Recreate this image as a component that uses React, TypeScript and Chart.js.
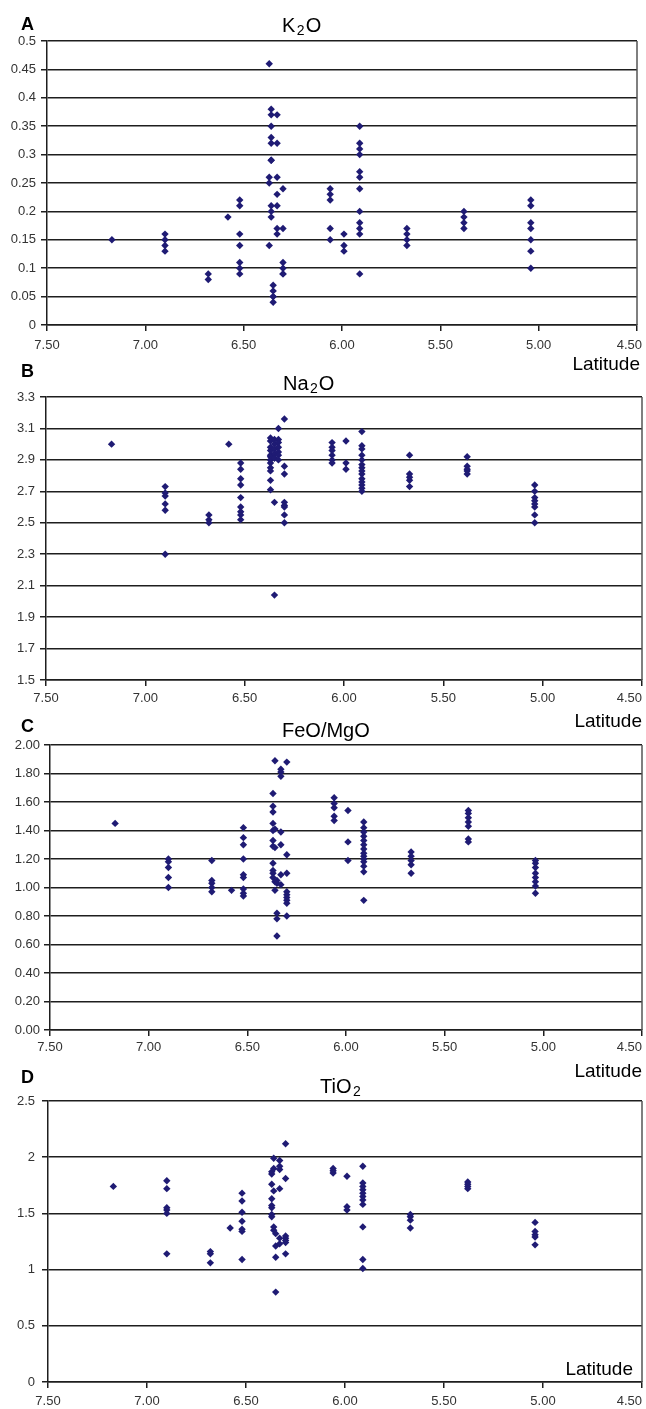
import React, { useEffect, useRef } from "react";
import { Chart, registerables } from "chart.js";

Chart.register(...registerables);

// Sampling latitudes (x groups), shared by all four panels
const LATITUDES = [7.17, 6.9, 6.68, 6.58, 6.52, 6.37, 6.36, 6.35, 6.33, 6.3, 6.06, 5.99, 5.91, 5.67, 5.38, 5.04];

// Values per latitude group (same order as LATITUDES)
const K2O: number[][] = [
  [0.15],
  [0.16, 0.15, 0.14, 0.13],
  [0.09, 0.08],
  [0.19],
  [0.22, 0.21, 0.16, 0.14, 0.11, 0.1, 0.09],
  [0.46, 0.26, 0.25, 0.14],
  [0.38, 0.37, 0.35, 0.33, 0.32, 0.29, 0.29, 0.21, 0.2, 0.19],
  [0.07, 0.06, 0.05, 0.05, 0.04],
  [0.37, 0.32, 0.26, 0.23, 0.21, 0.17, 0.16],
  [0.24, 0.17, 0.11, 0.1, 0.09, 0.09],
  [0.24, 0.23, 0.22, 0.17, 0.15],
  [0.16, 0.14, 0.13],
  [0.35, 0.32, 0.31, 0.3, 0.27, 0.26, 0.24, 0.2, 0.18, 0.17, 0.16, 0.09],
  [0.17, 0.16, 0.15, 0.14],
  [0.2, 0.19, 0.18, 0.17],
  [0.22, 0.21, 0.18, 0.17, 0.15, 0.13, 0.1],
];

const NA2O: number[][] = [
  [3.0],
  [2.73, 2.69, 2.67, 2.62, 2.58, 2.3],
  [2.55, 2.52, 2.5],
  [3.0],
  [2.88, 2.84, 2.78, 2.74, 2.66, 2.6, 2.57, 2.55, 2.52],
  [3.04, 3.02, 2.98, 2.96, 2.93, 2.92, 2.9, 2.88, 2.85, 2.83, 2.77, 2.71],
  [],
  [3.03, 3.0, 2.97, 2.94, 2.91, 2.63, 2.04],
  [3.1, 3.03, 3.01, 2.98, 2.95, 2.93, 2.9],
  [3.16, 2.86, 2.81, 2.63, 2.61, 2.6, 2.55, 2.5],
  [3.01, 2.98, 2.96, 2.93, 2.9, 2.88],
  [3.02, 2.88, 2.84],
  [3.08, 2.99, 2.97, 2.93, 2.9, 2.87, 2.85, 2.83, 2.81, 2.78, 2.76, 2.74, 2.72, 2.7],
  [2.93, 2.81, 2.79, 2.77, 2.73],
  [2.92, 2.86, 2.84, 2.83, 2.81],
  [2.74, 2.7, 2.66, 2.64, 2.62, 2.6, 2.55, 2.5],
];

const FEO_MGO: number[][] = [
  [1.45],
  [1.2, 1.18, 1.14, 1.07, 1.0],
  [1.19, 1.05, 1.03, 1.0, 0.97],
  [0.98],
  [1.42, 1.35, 1.3, 1.2, 1.09, 1.07, 0.99, 0.96, 0.94],
  [1.66, 1.57, 1.53, 1.45, 1.4, 1.33, 1.29, 1.17, 1.12, 1.1, 1.07],
  [1.89, 1.41, 1.28, 1.04, 0.98],
  [1.05, 1.03, 0.82, 0.78, 0.66],
  [1.83, 1.81, 1.78, 1.39, 1.3, 1.09, 1.02],
  [1.88, 1.23, 1.1, 0.97, 0.95, 0.93, 0.91, 0.89, 0.8],
  [1.63, 1.59, 1.56, 1.5, 1.47],
  [1.54, 1.32, 1.19],
  [1.46, 1.42, 1.39, 1.36, 1.33, 1.3, 1.27, 1.24, 1.22, 1.2, 1.18, 1.15, 1.11, 0.91],
  [1.25, 1.22, 1.19, 1.16, 1.1],
  [1.54, 1.52, 1.49, 1.46, 1.43, 1.34, 1.32],
  [1.19, 1.17, 1.14, 1.1, 1.07, 1.04, 1.01, 0.96],
];

const TIO2: number[][] = [
  [1.74],
  [1.79, 1.72, 1.55, 1.53, 1.5, 1.14],
  [1.16, 1.14, 1.06],
  [1.37],
  [1.68, 1.61, 1.51, 1.43, 1.36, 1.34, 1.09],
  [1.87, 1.85, 1.76, 1.63, 1.57, 1.55, 1.49, 1.47],
  [1.99, 1.9, 1.7, 1.38, 1.35],
  [1.32, 1.21, 1.11, 0.8],
  [1.97, 1.92, 1.89, 1.72, 1.28, 1.23],
  [2.12, 1.81, 1.3, 1.28, 1.26, 1.24, 1.14],
  [1.9, 1.88, 1.86],
  [1.83, 1.56, 1.53],
  [1.92, 1.77, 1.74, 1.71, 1.68, 1.65, 1.62, 1.58, 1.38, 1.09, 1.01],
  [1.49, 1.47, 1.44, 1.37],
  [1.78, 1.76, 1.74, 1.72],
  [1.42, 1.34, 1.31, 1.29, 1.22],
];

// Tick values
const X_TICKS = [7.5, 7.0, 6.5, 6.0, 5.5, 5.0, 4.5];
const K2O_TICKS = [0, 0.05, 0.1, 0.15, 0.2, 0.25, 0.3, 0.35, 0.4, 0.45, 0.5];
const NA2O_TICKS = [1.5, 1.7, 1.9, 2.1, 2.3, 2.5, 2.7, 2.9, 3.1, 3.3];
const FEO_MGO_TICKS = [0, 0.2, 0.4, 0.6, 0.8, 1.0, 1.2, 1.4, 1.6, 1.8, 2.0];
const TIO2_TICKS = [0, 0.5, 1, 1.5, 2, 2.5];

const FONT = '"Liberation Sans", Arial, Helvetica, sans-serif';
const MARKER = "#1f1b74";
const LINE = "#1e1e1e";
const W = 646;

type Spec = {
  letter: string;
  letterBase: number;
  title: [string, string, string];
  titleX: number;
  titleBase: number;
  canvasTop: number;
  height: number;
  area: { l: number; r: number; t: number; b: number };
  values: number[][];
  yTicks: number[];
  yFmt: (v: number) => string;
  yPad: number;
  xPad: number;
  latX: number;
  latBase: number;
};

const SPECS: Spec[] = [
  {
    letter: "A", letterBase: 30, title: ["K", "2", "O"], titleX: 282, titleBase: 32,
    canvasTop: 0, height: 385, area: { l: 47, r: 637, t: 41, b: 325 },
    values: K2O, yTicks: K2O_TICKS, yFmt: (v) => String(+v.toFixed(2)), yPad: 5, xPad: 7,
    latX: 640, latBase: 370,
  },
  {
    letter: "B", letterBase: 377, title: ["Na", "2", "O"], titleX: 283, titleBase: 390,
    canvasTop: 355, height: 380, area: { l: 46, r: 642, t: 397, b: 680 },
    values: NA2O, yTicks: NA2O_TICKS, yFmt: (v) => v.toFixed(1), yPad: 5, xPad: 5,
    latX: 642, latBase: 727,
  },
  {
    letter: "C", letterBase: 732, title: ["FeO/MgO", "", ""], titleX: 282, titleBase: 737,
    canvasTop: 705, height: 380, area: { l: 50, r: 642, t: 745, b: 1030 },
    values: FEO_MGO, yTicks: FEO_MGO_TICKS, yFmt: (v) => v.toFixed(2), yPad: 4, xPad: 4,
    latX: 642, latBase: 1077,
  },
  {
    letter: "D", letterBase: 1083, title: ["TiO", "2", ""], titleX: 320, titleBase: 1093,
    canvasTop: 1060, height: 349, area: { l: 48, r: 642, t: 1101, b: 1382 },
    values: TIO2, yTicks: TIO2_TICKS, yFmt: (v) => String(+v.toFixed(1)), yPad: 7, xPad: 6,
    latX: 633, latBase: 1375,
  },
];

function Panel({ spec }: { spec: Spec }) {
  const ref = useRef<HTMLCanvasElement | null>(null);
  useEffect(() => {
    if (!ref.current) return;
    const s = spec;
    const off = s.canvasTop;
    const data = LATITUDES.flatMap((lat, i) => (s.values[i] || []).map((v) => ({ x: lat, y: v })));
    const tickLen = 6;

    const overlay = {
      id: "overlay" + s.letter,
      afterDraw(chart: any) {
        const ctx = chart.ctx as CanvasRenderingContext2D;
        const ca = chart.chartArea;
        ctx.save();
        // right border
        ctx.strokeStyle = "#555";
        ctx.lineWidth = 1.5;
        ctx.beginPath();
        ctx.moveTo(ca.right, ca.top);
        ctx.lineTo(ca.right, ca.bottom);
        ctx.stroke();
        // last x label (kept inside the page like the original)
        ctx.fillStyle = "#333";
        ctx.font = `13px ${FONT}`;
        ctx.textAlign = "right";
        ctx.textBaseline = "middle";
        ctx.fillText((4.5).toFixed(2), 642, ca.bottom + tickLen + s.xPad + 7.8);
        // panel letter
        ctx.fillStyle = "#000";
        ctx.textBaseline = "alphabetic";
        ctx.textAlign = "left";
        ctx.font = `bold 18px ${FONT}`;
        ctx.fillText(s.letter, 21, s.letterBase - off);
        // title with subscript
        let x = s.titleX;
        ctx.font = `20px ${FONT}`;
        ctx.fillText(s.title[0], x, s.titleBase - off);
        x += ctx.measureText(s.title[0]).width;
        if (s.title[1]) {
          x += 1.5;
          ctx.font = `14px ${FONT}`;
          ctx.fillText(s.title[1], x, s.titleBase + 3 - off);
          x += ctx.measureText(s.title[1]).width + 1;
        }
        if (s.title[2]) {
          ctx.font = `20px ${FONT}`;
          ctx.fillText(s.title[2], x, s.titleBase - off);
        }
        // axis label
        ctx.font = `19px ${FONT}`;
        ctx.textAlign = "right";
        ctx.fillText("Latitude", s.latX, s.latBase - off);
        ctx.restore();
      },
    };

    const chart = new Chart(ref.current, {
      type: "scatter",
      data: {
        datasets: [
          {
            data,
            pointStyle: "rectRot",
            pointRadius: 3.7,
            pointBorderWidth: 0,
            backgroundColor: MARKER,
            borderColor: MARKER,
          } as any,
        ],
      },
      options: {
        animation: false,
        responsive: false,
        devicePixelRatio: 1,
        layout: {
          padding: { top: s.area.t - off, right: W - s.area.r, left: 0, bottom: 0 },
        },
        plugins: {
          legend: { display: false },
          title: { display: false },
          tooltip: { enabled: false },
        },
        scales: {
          x: {
            type: "linear",
            min: 4.5,
            max: 7.5,
            reverse: true,
            afterBuildTicks: (scale: any) => {
              scale.ticks = X_TICKS.map((v) => ({ value: v }));
            },
            afterFit: (scale: any) => {
              scale.height = off + s.height - s.area.b;
              scale.paddingLeft = 0;
              scale.paddingRight = 0;
            },
            ticks: {
              autoSkip: false,
              maxRotation: 0,
              padding: s.xPad,
              color: "#333",
              font: { family: FONT, size: 13 },
              callback: (v: any) => (Number(v) === 4.5 ? "" : Number(v).toFixed(2)),
            },
            grid: {
              drawOnChartArea: false,
              drawTicks: true,
              tickLength: tickLen,
              color: LINE,
              lineWidth: 1.5,
            },
            border: { display: true, color: LINE, width: 1.5 },
          },
          y: {
            type: "linear",
            min: s.yTicks[0],
            max: s.yTicks[s.yTicks.length - 1],
            afterBuildTicks: (scale: any) => {
              scale.ticks = s.yTicks.map((v) => ({ value: v }));
            },
            afterFit: (scale: any) => {
              scale.width = s.area.l;
              scale.paddingTop = 0;
              scale.paddingBottom = 0;
            },
            ticks: {
              autoSkip: false,
              padding: s.yPad,
              color: "#333",
              font: { family: FONT, size: 13 },
              callback: (v: any) => s.yFmt(Number(v)),
            },
            grid: {
              drawOnChartArea: true,
              drawTicks: true,
              tickLength: tickLen,
              color: LINE,
              lineWidth: 1.5,
            },
            border: { display: true, color: LINE, width: 1.5 },
          },
        },
      },
      plugins: [overlay],
    } as any);
    return () => chart.destroy();
  }, [spec]);

  return (
    <canvas
      ref={ref}
      width={W}
      height={spec.height}
      style={{ position: "absolute", left: 0, top: spec.canvasTop, width: W, height: spec.height }}
    />
  );
}

export default function App() {
  return (
    <div
      style={{
        position: "absolute",
        left: 0,
        top: 0,
        width: W,
        height: 1409,
        background: "#fff",
        overflow: "hidden",
      }}
    >
      {SPECS.map((s) => (
        <Panel key={s.letter} spec={s} />
      ))}
    </div>
  );
}
